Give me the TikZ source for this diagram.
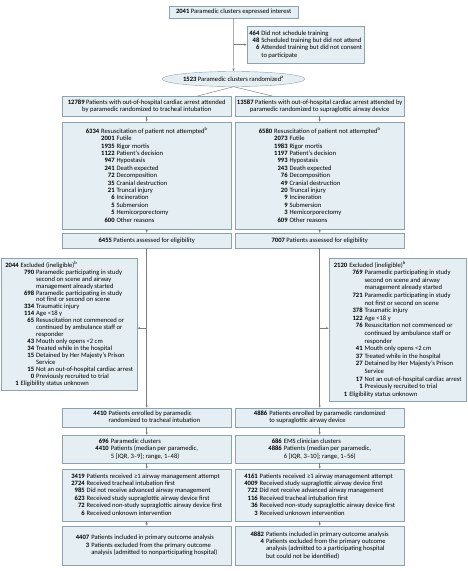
\documentclass[tikz,border=0pt]{standalone}
\usepackage{fontspec}
\setmainfont{Carlito}
\usetikzlibrary{arrows.meta,shapes.geometric,calc}
\definecolor{boxfill}{RGB}{229,239,243}
\definecolor{boxdraw}{RGB}{140,162,174}
\definecolor{linegray}{RGB}{125,125,125}
\newcommand{\nb}[1]{\textbf{#1}}
\setlength{\tabcolsep}{0pt}
\newcommand{\sep}{\hspace{2pt}}
\begin{document}
\begin{tikzpicture}[x=1pt,y=-1pt,
  box/.style={draw=boxdraw, fill=boxfill, line width=0.4pt, inner sep=0pt,
    anchor=north west, align=center, font=\fontsize{6.6}{7.4}\selectfont},
  conn/.style={draw=linegray, line width=0.45pt},
  arr/.style={conn, -{Latex[length=2.6pt,width=2.2pt]}},
]
\useasboundingbox[fill=white] (0,0) rectangle (468,571);

% ---------- top ----------
\node[box, minimum width=129pt, minimum height=12pt] (T) at (169,6)
  {\nb{2041} Paramedic clusters expressed interest};
\node[box, minimum width=117pt, minimum height=37pt] (E0) at (247,26)
  {\begin{tabular}{r@{\sep}l}
   \nb{464} & Did not schedule training\\
   \nb{48} & Scheduled training but did not attend\\
   \nb{6} & Attended training but did not consent\\
    & to participate
  \end{tabular}};
\node[ellipse, draw=boxdraw, fill=boxfill, line width=0.4pt, inner sep=0pt,
  minimum width=127pt, minimum height=15pt, font=\fontsize{6.6}{7.4}\selectfont] (R) at (233.5,79)
  {\nb{1523} Paramedic clusters randomized\textsuperscript{a}};

% ---------- left column ----------
\node[box, minimum width=169pt, minimum height=20pt] (L1) at (62,96)
  {\nb{12789} Patients with out-of-hospital cardiac arrest attended\\
   by paramedic randomized to tracheal intubation};
\node[box, minimum width=169pt, minimum height=107pt] (L2) at (62,122)
  {\begin{tabular}{r@{\sep}r@{\sep}l}
   \nb{6334} & \multicolumn{2}{l}{Resuscitation of patient not attempted\textsuperscript{b}}\\
   & \nb{2001} & Futile\\
   & \nb{1935} & Rigor mortis\\
   & \nb{1122} & Patient's decision\\
   & \nb{947} & Hypostasis\\
   & \nb{241} & Death expected\\
   & \nb{72} & Decomposition\\
   & \nb{35} & Cranial destruction\\
   & \nb{21} & Truncal injury\\
   & \nb{6} & Incineration\\
   & \nb{5} & Submersion\\
   & \nb{5} & Hemicorporectomy\\
   & \nb{600} & Other reasons
  \end{tabular}};
\node[box, minimum width=169pt, minimum height=15pt] (L3) at (62,233)
  {\nb{6455} Patients assessed for eligibility};
\node[box, minimum width=169pt, minimum height=19pt] (L4) at (62,408)
  {\begin{tabular}{r@{\sep}l}
   \nb{4410} & Patients enrolled by paramedic\\
   & randomized to tracheal intubation
  \end{tabular}};
\node[box, minimum width=169pt, minimum height=28pt] (L5) at (62,435)
  {\begin{tabular}{r@{\sep}l}
   \nb{696} & Paramedic clusters\\
   \nb{4410} & Patients (median per paramedic,\\
   & 5 [IQR, 3--9]; range, 1--48)
  \end{tabular}};
\node[box, minimum width=169pt, minimum height=52pt] (L6) at (62,469)
  {\begin{tabular}{r@{\sep}l}
   \nb{3419} & Patients received ≥1 airway management attempt\\
   \nb{2724} & Received tracheal intubation first\\
   \nb{985} & Did not receive advanced airway management\\
   \nb{623} & Received study supraglottic airway device first\\
   \nb{72} & Received non-study supraglottic airway device first\\
   \nb{6} & Received unknown intervention
  \end{tabular}};
\node[box, minimum width=169pt, minimum height=39pt] (L7) at (62,526)
  {\begin{tabular}{r@{\sep}l}
   \nb{4407} & Patients included in primary outcome analysis\\
   \nb{3} & Patients excluded from the primary outcome\\
   & analysis (admitted to nonparticipating hospital)
  \end{tabular}};

% ---------- right column ----------
\node[box, minimum width=169pt, minimum height=20pt] (R1) at (235,96)
  {\nb{13587} Patients with out-of-hospital cardiac arrest attended by\\
   paramedic randomized to supraglottic airway device};
\node[box, minimum width=169pt, minimum height=107pt] (R2) at (235,122)
  {\begin{tabular}{r@{\sep}r@{\sep}l}
   \nb{6580} & \multicolumn{2}{l}{Resuscitation of patient not attempted\textsuperscript{b}}\\
   & \nb{2073} & Futile\\
   & \nb{1983} & Rigor mortis\\
   & \nb{1197} & Patient's decision\\
   & \nb{993} & Hypostasis\\
   & \nb{243} & Death expected\\
   & \nb{76} & Decomposition\\
   & \nb{49} & Cranial destruction\\
   & \nb{20} & Truncal injury\\
   & \nb{9} & Incineration\\
   & \nb{9} & Submersion\\
   & \nb{3} & Hemicorporectomy\\
   & \nb{609} & Other reasons
  \end{tabular}};
\node[box, minimum width=169pt, minimum height=15pt] (R3) at (235,233)
  {\nb{7007} Patients assessed for eligibility};
\node[box, minimum width=169pt, minimum height=19pt] (R4) at (235,408)
  {\begin{tabular}{r@{\sep}l}
   \nb{4886} & Patients enrolled by paramedic randomized\\
   & to supraglottic airway device
  \end{tabular}};
\node[box, minimum width=169pt, minimum height=28pt] (R5) at (235,435)
  {\begin{tabular}{r@{\sep}l}
   \nb{686} & EMS clinician clusters\\
   \nb{4886} & Patients (median per paramedic,\\
   & 6 [IQR, 3--10]; range, 1--56)
  \end{tabular}};
\node[box, minimum width=169pt, minimum height=52pt] (R6) at (235,469)
  {\begin{tabular}{r@{\sep}l}
   \nb{4161} & Patients received ≥1 airway management attempt\\
   \nb{4009} & Received study supraglottic airway device first\\
   \nb{722} & Did not receive advanced airway management\\
   \nb{116} & Received tracheal intubation first\\
   \nb{36} & Received non-study supraglottic airway device first\\
   \nb{3} & Received unknown intervention
  \end{tabular}};
\node[box, minimum width=169pt, minimum height=39pt] (R7) at (235,526)
  {\begin{tabular}{r@{\sep}l}
   \nb{4882} & Patients included in primary outcome analysis\\
   \nb{4} & Patients excluded from the primary outcome\\
   & analysis (admitted to a participating hospital\\
   & but could not be identified)
  \end{tabular}};

% ---------- exclusion boxes ----------
\node[box, minimum width=136pt, minimum height=132pt, font=\fontsize{6.6}{6.95}\selectfont] (EL) at (1,258)
  {\begin{tabular}{r@{\sep}r@{\sep}l}
   \nb{2044} & \multicolumn{2}{l}{Excluded (ineligible)\textsuperscript{b}}\\
   & \nb{\hphantom{0}790} & Paramedic participating in study\\
   & & second on scene and airway\\
   & & management already started\\
   & \nb{698} & Paramedic participating in study\\
   & & not first or second on scene\\
   & \nb{334} & Traumatic injury\\
   & \nb{114} & Age <18 y\\
   & \nb{65} & Resuscitation not commenced or\\
   & & continued by ambulance staff or\\
   & & responder\\
   & \nb{43} & Mouth only opens <2 cm\\
   & \nb{34} & Treated while in the hospital\\
   & \nb{15} & Detained by Her Majesty's Prison\\
   & & Service\\
   & \nb{15} & Not an out-of-hospital cardiac arrest\\
   & \nb{0} & Previously recruited to trial\\
   \nb{1} & \multicolumn{2}{l}{Eligibility status unknown}
  \end{tabular}};
\node[box, minimum width=137pt, minimum height=143pt, font=\fontsize{6.6}{7.6}\selectfont] (ER) at (329,258)
  {\begin{tabular}{r@{\sep}r@{\sep}l}
   \nb{2120} & \multicolumn{2}{l}{Excluded (ineligible)\textsuperscript{b}}\\
   & \nb{\hphantom{0}769} & Paramedic participating in study\\
   & & second on scene and airway\\
   & & management already started\\
   & \nb{721} & Paramedic participating in study\\
   & & not first or second on scene\\
   & \nb{378} & Traumatic injury\\
   & \nb{122} & Age <18 y\\
   & \nb{76} & Resuscitation not commenced or\\
   & & continued by ambulance staff or\\
   & & responder\\
   & \nb{41} & Mouth only opens <2 cm\\
   & \nb{37} & Treated while in the hospital\\
   & \nb{27} & Detained by Her Majesty's Prison\\
   & & Service\\
   & \nb{17} & Not an out-of-hospital cardiac arrest\\
   & \nb{1} & Previously recruited to trial\\
   \nb{1} & \multicolumn{2}{l}{Eligibility status unknown}
  \end{tabular}};

% ---------- connectors ----------
\draw[arr] (T.south) -- (R.north);
\draw[arr] (T.south |- E0.west) -- (E0.west);
\coordinate (lt) at ($(L1.north west)!0.8!(L1.north east)$);
\coordinate (rt) at ($(R1.north west)!0.22!(R1.north east)$);
\draw[conn] (R.south) -- (lt);
\draw[conn] (R.south) -- (rt);

\foreach \a/\b in {L1/L2,L2/L3,L4/L5,L5/L6,L6/L7,R1/R2,R2/R3,R4/R5,R5/R6,R6/R7}
  \draw[arr] (\a.south) -- (\b.north);

\draw[arr] (L3.south) -- (L4.north);
\draw[arr] (R3.south) -- (R4.north);
\coordinate (bl) at ($(L3.south)!0.5!(L4.north)$);
\coordinate (br) at ($(R3.south)!0.5!(R4.north)$);
\draw[arr] (bl) -- (bl -| EL.east);
\draw[arr] (br) -- (br -| ER.west);
\end{tikzpicture}
\end{document}
